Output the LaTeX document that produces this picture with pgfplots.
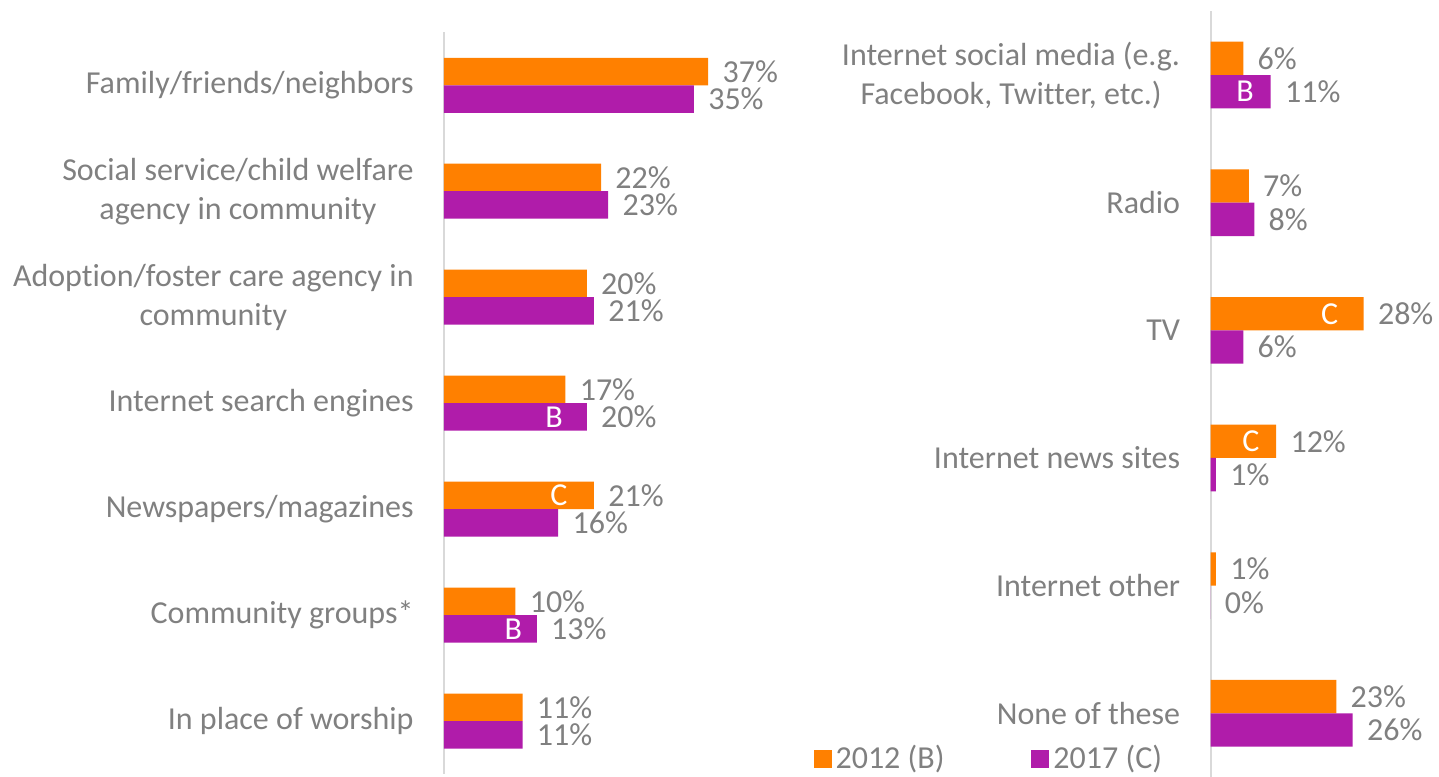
\documentclass[border=0pt]{standalone}
\usepackage{pgfplots}
\pgfplotsset{compat=1.18}
\usepackage{fontspec}
\setmainfont{Carlito}[Ligatures=NoCommon]

\definecolor{cOrange}{HTML}{FF8000}
\definecolor{cPurple}{HTML}{B01CAA}
\definecolor{cText}{HTML}{808080}
\definecolor{cAxis}{HTML}{D9D9D9}

\newcommand{\lbl}{\fontsize{16}{19.5}\selectfont}

\tikzset{letter/.style={font=\lbl, text=white}}

\pgfplotsset{
  panel/.style={
    xbar, scale only axis, y dir=reverse, clip=false,
    xmin=0,
    axis x line=none, axis y line*=left,
    y axis line style={draw=cAxis, line width=1pt, -},
    major tick length=0pt,
    yticklabel style={font=\lbl, text=cText, align=center, inner sep=0pt, xshift=-15pt},
    point meta=x,
    nodes near coords={\pgfmathprintnumber[assume math mode=true]{\pgfplotspointmeta}\%},
    every node near coord/.append style={font=\lbl, text=cText, anchor=west, inner sep=0pt, xshift=7pt},
    legend image code/.code={\fill[##1] (-2pt,-4.5pt) rectangle (7pt,4.5pt);},
  },
}

\begin{document}
\begin{tikzpicture}
\path[use as bounding box] (0pt,0pt) rectangle (719.5pt,-388pt);

% left panel
\begin{axis}[panel,
  at={(222pt,-16.15pt)}, anchor=north west,
  width=160.65pt, height=370.85pt,
  xmax=45, ymin=-0.5, ymax=6.5,
  bar width=13.75pt,
  ytick={0,...,6},
  yticklabels={Family/friends/neighbors,
    {Social service/child welfare\\agency in community},
    {Adoption/foster care agency in\\community},
    Internet search engines, Newspapers/magazines,
    Community groups*, In place of worship},
]
\addplot[fill=cOrange, draw=none, bar shift=6.875pt] coordinates {
  (37,0) (22,1) (20,2) (17,3) (21,4) (10,5) (11,6)};
\addplot[fill=cPurple, draw=none, bar shift=-6.875pt] coordinates {
  (35,0) (23,1) (21,2) (20,3) (16,4) (13,5) (11,6)};
\node[letter] at (axis cs:15.4,3.13) {B};
\node[letter] at (axis cs:16.1,3.87) {C};
\node[letter] at (axis cs:9.7,5.13) {B};
\end{axis}

% right panel
\begin{axis}[panel,
  at={(605.25pt,-5.6pt)}, anchor=north west,
  width=95.7pt, height=382.95pt,
  xmax=35, ymin=-0.5, ymax=5.5,
  bar width=16.67pt,
  ytick={0,...,5},
  yticklabels={{Internet social media (e.g.\\Facebook, Twitter, etc.)},
    Radio, TV, Internet news sites, Internet other, None of these},
  legend columns=2,
  legend style={at={(-2.076,0.024)}, anchor=west, draw=none, fill=none,
    inner sep=0pt, font=\lbl, text=cText,
    /tikz/every even column/.append style={column sep=41.5pt}},
]
\addplot[fill=cOrange, draw=none, bar shift=8.33pt] coordinates {
  (6,0) (7,1) (28,2) (12,3) (1,4) (23,5)};
\addplot[fill=cPurple, draw=none, bar shift=-8.33pt] coordinates {
  (11,0) (8,1) (6,2) (1,3) (0,4) (26,5)};
\legend{2012 (B), 2017 (C)}
\node[letter] at (axis cs:6.3,0.13) {B};
\node[letter] at (axis cs:21.8,1.87) {C};
\node[letter] at (axis cs:7.4,2.87) {C};
\end{axis}
\end{tikzpicture}
\end{document}
